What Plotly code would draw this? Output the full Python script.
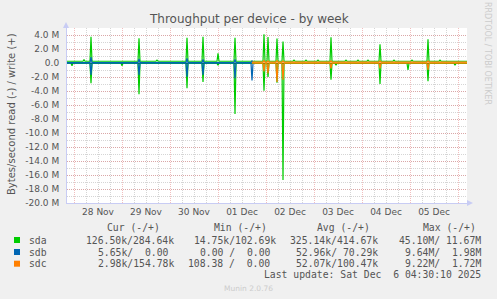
import plotly.graph_objects as go

M = 1e6

# ---- data (values in M bytes/second) ----
sda_time = [
    "2025-11-27 20:30", "2025-11-27 22:30", "2025-11-27 23:00", "2025-11-27 23:30",
    "2025-11-28 04:30", "2025-11-28 05:00", "2025-11-28 05:30",
    "2025-11-28 08:00", "2025-11-28 08:30", "2025-11-28 09:00",
    "2025-11-28 23:30", "2025-11-29 00:00", "2025-11-29 00:30",
    "2025-11-29 08:00", "2025-11-29 08:30", "2025-11-29 09:00",
    "2025-11-29 17:00", "2025-11-29 17:30", "2025-11-29 18:00",
    "2025-11-30 08:00", "2025-11-30 08:30", "2025-11-30 09:00",
    "2025-11-30 16:00", "2025-11-30 16:30", "2025-11-30 17:00",
    "2025-11-30 23:30", "2025-12-01 00:00", "2025-12-01 00:30",
    "2025-12-01 08:00", "2025-12-01 08:30", "2025-12-01 09:00",
    "2025-12-01 22:30", "2025-12-01 23:00", "2025-12-01 23:30",
    "2025-12-02 00:30", "2025-12-02 01:00", "2025-12-02 01:30",
    "2025-12-02 05:00", "2025-12-02 05:30", "2025-12-02 06:00",
    "2025-12-02 08:00", "2025-12-02 08:30", "2025-12-02 09:00",
    "2025-12-02 13:30", "2025-12-02 14:00", "2025-12-02 14:30",
    "2025-12-02 19:30", "2025-12-02 20:00", "2025-12-02 20:30",
    "2025-12-03 01:30", "2025-12-03 02:00", "2025-12-03 02:30",
    "2025-12-03 08:00", "2025-12-03 08:30", "2025-12-03 09:00",
    "2025-12-03 10:30", "2025-12-03 11:00", "2025-12-03 11:30",
    "2025-12-03 15:30", "2025-12-03 16:00", "2025-12-03 16:30",
    "2025-12-03 21:30", "2025-12-03 22:00", "2025-12-03 22:30",
    "2025-12-04 02:30", "2025-12-04 03:00", "2025-12-04 03:30",
    "2025-12-04 08:30", "2025-12-04 09:00", "2025-12-04 09:30",
    "2025-12-04 15:30", "2025-12-04 16:00", "2025-12-04 16:30",
    "2025-12-04 22:30", "2025-12-04 23:00", "2025-12-04 23:30",
    "2025-12-05 00:30", "2025-12-05 01:00", "2025-12-05 01:30",
    "2025-12-05 08:30", "2025-12-05 09:00", "2025-12-05 09:30",
    "2025-12-05 14:30", "2025-12-05 15:00", "2025-12-05 15:30",
    "2025-12-05 22:00", "2025-12-05 22:30", "2025-12-05 23:00",
    "2025-12-06 04:30",
]
sda_write = [
    0.25, 0.25, 0.25, 0.25,
    0.25, 0.50, 0.25,
    0.25, 3.76, 0.25,
    0.25, 0.25, 0.25,
    0.25, 3.52, 0.25,
    0.25, 0.40, 0.25,
    0.25, 3.62, 0.25,
    0.25, 3.76, 0.25,
    0.25, 1.38, 0.25,
    0.25, 3.60, 0.25,
    0.25, 4.10, 0.25,
    0.25, 3.70, 0.25,
    0.25, 3.50, 0.25,
    0.25, 3.05, 0.25,
    0.25, 0.40, 0.25,
    0.25, 0.40, 0.25,
    0.25, 0.40, 0.25,
    0.25, 3.67, 0.25,
    0.25, 0.25, 0.25,
    0.25, 0.40, 0.25,
    0.25, 0.40, 0.25,
    0.25, 0.40, 0.25,
    0.25, 2.67, 0.25,
    0.25, 0.40, 0.25,
    0.25, 0.25, 0.25,
    0.25, 0.40, 0.25,
    0.25, 3.40, 0.25,
    0.25, 0.40, 0.25,
    0.25, 0.25, 0.25,
    0.25,
]
sda_read = [
    0.05, 0.05, 0.40, 0.05,
    0.05, 0.05, 0.05,
    0.05, 2.90, 0.05,
    0.05, 0.38, 0.05,
    0.05, 4.47, 0.05,
    0.05, 0.05, 0.05,
    0.05, 3.60, 0.05,
    0.05, 2.70, 0.05,
    0.05, 0.30, 0.05,
    0.05, 7.29, 0.05,
    0.05, 3.95, 0.05,
    0.05, 2.00, 0.05,
    0.05, 2.80, 0.05,
    0.05, 16.70, 0.05,
    0.05, 0.05, 0.05,
    0.05, 0.05, 0.05,
    0.05, 0.05, 0.05,
    0.05, 2.40, 0.05,
    0.05, 0.30, 0.05,
    0.05, 0.05, 0.05,
    0.05, 0.05, 0.05,
    0.05, 0.05, 0.05,
    0.05, 3.00, 0.05,
    0.05, 0.05, 0.05,
    0.05, 1.00, 0.05,
    0.05, 0.05, 0.05,
    0.05, 2.60, 0.05,
    0.05, 0.05, 0.05,
    0.05, 0.30, 0.05,
    0.05,
]

sdb_time = [
    "2025-11-27 20:30",
    "2025-11-28 08:00", "2025-11-28 08:30", "2025-11-28 09:00",
    "2025-11-29 08:00", "2025-11-29 08:30", "2025-11-29 09:00",
    "2025-11-30 08:00", "2025-11-30 08:30", "2025-11-30 09:00",
    "2025-11-30 16:00", "2025-11-30 16:30", "2025-11-30 17:00",
    "2025-12-01 08:00", "2025-12-01 08:30", "2025-12-01 09:00",
    "2025-12-01 16:30", "2025-12-01 17:00", "2025-12-01 17:30",
]
sdb_write = [
    0.07,
    0.07, 0.85, 0.07,
    0.07, 0.60, 0.07,
    0.07, 0.67, 0.07,
    0.07, 0.50, 0.07,
    0.07, 0.50, 0.07,
    0.07, 0.30, 0.07,
]
sdb_read = [
    0.03,
    0.03, 1.70, 0.03,
    0.03, 1.70, 0.03,
    0.03, 1.96, 0.03,
    0.03, 1.70, 0.03,
    0.03, 2.20, 0.03,
    0.03, 2.50, 0.03,
]

sdc_time = [
    "2025-12-01 17:00",
    "2025-12-01 22:30", "2025-12-01 23:00", "2025-12-01 23:30",
    "2025-12-02 00:30", "2025-12-02 01:00", "2025-12-02 01:30",
    "2025-12-02 05:00", "2025-12-02 05:30", "2025-12-02 06:00",
    "2025-12-02 08:00", "2025-12-02 08:30", "2025-12-02 09:00",
    "2025-12-03 08:00", "2025-12-03 08:30", "2025-12-03 09:00",
    "2025-12-04 08:30", "2025-12-04 09:00", "2025-12-04 09:30",
    "2025-12-05 08:30", "2025-12-05 09:00", "2025-12-05 09:30",
    "2025-12-06 04:30",
]
sdc_write = [
    0.12,
    0.12, 0.35, 0.12,
    0.12, 0.30, 0.12,
    0.12, 0.35, 0.12,
    0.12, 0.30, 0.12,
    0.12, 0.30, 0.12,
    0.12, 0.30, 0.12,
    0.12, 0.30, 0.12,
    0.12,
]
sdc_read = [
    0.02,
    0.02, 1.20, 0.02,
    0.02, 1.50, 0.02,
    0.02, 2.70, 0.02,
    0.02, 2.40, 0.02,
    0.02, 0.76, 0.02,
    0.02, 0.76, 0.02,
    0.02, 1.00, 0.02,
    0.02,
]

y_tick_vals = [4, 2, 0, -2, -4, -6, -8, -10, -12, -14, -16, -18, -20]
y_tick_text = ["4.0 M", "2.0 M", "0.0", "-2.0 M", "-4.0 M", "-6.0 M", "-8.0 M",
               "-10.0 M", "-12.0 M", "-14.0 M", "-16.0 M", "-18.0 M", "-20.0 M"]

devices = ["sda", "sdb", "sdc"]
dev_colors = ["#00cc00", "#0066b3", "#ff8000"]
col_headers = ["Cur (-/+)", "Min (-/+)", "Avg (-/+)", "Max (-/+)"]
legend_values = [
    ["126.50k/284.64k", "14.75k/102.69k", "325.14k/414.67k", "45.10M/ 11.67M"],
    ["5.65k/  0.00 ", "0.00 /  0.00 ", "52.96k/ 70.29k", "9.64M/  1.98M"],
    ["2.98k/154.78k", "108.38 /  0.00 ", "52.07k/100.47k", "9.22M/  1.72M"],
]
last_update = "Last update: Sat Dec  6 04:30:10 2025"

# ---- layout geometry (pixels) ----
W, H = 497, 299
L, R, T, B = 67, 467, 28, 203


def px(x):
    return (x - L) / (R - L)


def py(y):
    return (B - y) / (B - T)


fig = go.Figure()

series = [
    (sda_time, sda_read, sda_write, dev_colors[0]),
    (sdb_time, sdb_read, sdb_write, dev_colors[1]),
    (sdc_time, sdc_read, sdc_write, dev_colors[2]),
]
for t, rd, wr, c in series:
    fig.add_trace(go.Scatter(x=t, y=[-v * M for v in rd], mode="lines",
                             line=dict(color=c, width=1.2), showlegend=False,
                             hoverinfo="skip"))
    fig.add_trace(go.Scatter(x=t, y=[v * M for v in wr], mode="lines",
                             line=dict(color=c, width=1.2), showlegend=False,
                             hoverinfo="skip"))

tick_font = dict(family="DejaVu Sans", size=9, color="#555555")
mono = "DejaVu Sans Mono"
txt_col = "#555555"
major_grid = "rgba(225,110,110,0.45)"
minor_grid = "rgba(150,150,150,0.4)"

fig.update_layout(
    width=W, height=H,
    margin=dict(l=L, r=W - R, t=T, b=H - B, pad=0),
    paper_bgcolor="#f0f0f0",
    plot_bgcolor="#ffffff",
    xaxis=dict(
        type="date",
        range=["2025-11-27 20:30", "2025-12-06 04:30"],
        tickmode="linear", tick0="2025-11-28 00:00", dtick=86400000,
        ticklabelmode="period", tickformat="%d %b",
        tickfont=tick_font, ticks="",
        showgrid=True, gridcolor=major_grid, griddash="1px,1px", gridwidth=1,
        minor=dict(tick0="2025-11-28 00:00", dtick=6 * 3600000, showgrid=True,
                   gridcolor=minor_grid, griddash="1px,1px", gridwidth=1),
        showline=True, linecolor="#c8ccf4", linewidth=1,
        zeroline=False, fixedrange=True,
    ),
    yaxis=dict(
        range=[-20 * M, 5 * M],
        tickmode="array", tickvals=[v * M for v in y_tick_vals], ticktext=y_tick_text,
        tickfont=tick_font, ticks="", ticklabelstandoff=5,
        showgrid=True, gridcolor=major_grid, griddash="1px,1px", gridwidth=1,
        minor=dict(tickmode="linear", tick0=0, dtick=1 * M, showgrid=True,
                   gridcolor=minor_grid, griddash="1px,1px", gridwidth=1),
        showline=True, linecolor="#c8ccf4", linewidth=1,
        zeroline=True, zerolinecolor="#000000", zerolinewidth=1, fixedrange=True,
    ),
)

ann = []
# title
ann.append(dict(text="Throughput per device - by week", x=px(248.5), y=py(19),
                font=dict(family="DejaVu Sans", size=12, color="#555555")))
# y axis title
ann.append(dict(text="Bytes/second read (-) / write (+)", x=px(11), y=py(114),
                textangle=-90, font=dict(family="DejaVu Sans", size=10, color="#555555")))
# rrdtool credit
ann.append(dict(text="RRDTOOL / TOBI OETIKER", x=px(488), y=py(53), textangle=90,
                font=dict(family="DejaVu Sans", size=8, color="#cccccc")))
# munin version
ann.append(dict(text="Munin 2.0.76", x=px(248), y=py(288),
                font=dict(family="DejaVu Sans", size=7.5, color="#cccccc")))

# legend headers
for h, cx in zip(col_headers, [133.5, 240, 343.7, 449.3]):
    ann.append(dict(text=h.replace(" ", "\u00a0"), x=px(cx), y=py(227.3),
                    font=dict(family=mono, size=9.75, color=txt_col)))
rows_y = [240, 252, 263.7]
for d, vals, ry in zip(devices, legend_values, rows_y):
    ann.append(dict(text=d, x=px(27), y=py(ry), xanchor="left",
                    font=dict(family=mono, size=9.75, color=txt_col)))
    for v, rx in zip(vals, [176, 278, 380, 483]):
        ann.append(dict(text=v.replace(" ", "\u00a0"), x=px(rx), y=py(ry), xanchor="right",
                        font=dict(family=mono, size=9.75, color=txt_col)))
ann.append(dict(text=last_update.replace(" ", "\u00a0"), x=px(483), y=py(274), xanchor="right",
                font=dict(family=mono, size=9.75, color=txt_col)))

for a in ann:
    a.setdefault("xanchor", "center")
    a.setdefault("yanchor", "middle")
    a.update(xref="paper", yref="paper", showarrow=False)
fig.update_layout(annotations=ann)

# legend colour squares and axis arrows
shapes = []
for c, ry in zip(dev_colors, rows_y):
    shapes.append(dict(type="rect", xref="paper", yref="paper",
                       x0=px(14), x1=px(20), y0=py(ry + 3), y1=py(ry - 3),
                       fillcolor=c, line=dict(width=0)))
# arrow heads
shapes.append(dict(type="path", xref="paper", yref="paper",
                   path=f"M {px(63)} {py(28)} L {px(69)} {py(28)} L {px(66)} {py(22)} Z",
                   fillcolor="#c8ccf4", line=dict(width=0)))
shapes.append(dict(type="path", xref="paper", yref="paper",
                   path=f"M {px(467)} {py(200)} L {px(467)} {py(206)} L {px(473)} {py(203)} Z",
                   fillcolor="#c8ccf4", line=dict(width=0)))
fig.update_layout(shapes=shapes)

fig.write_html("out.html")
